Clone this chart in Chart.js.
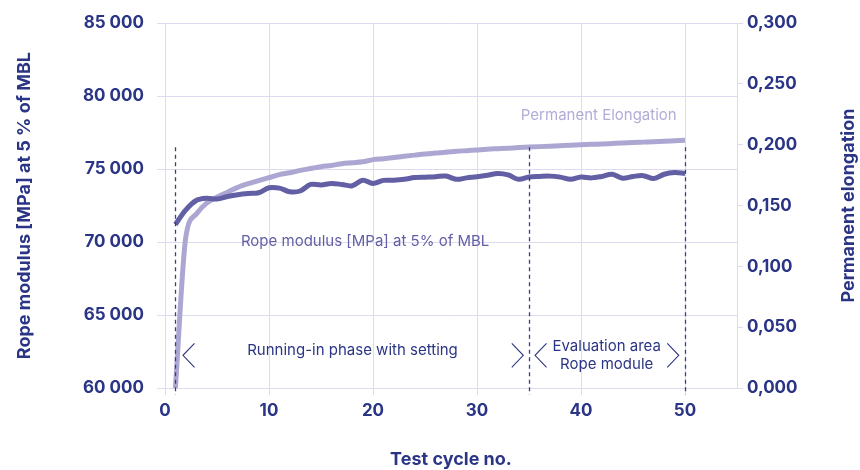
<!DOCTYPE html>
<html>
<head>
<meta charset="utf-8">
<script src="https://cdn.jsdelivr.net/npm/chart.js@4.4.1/dist/chart.umd.min.js"></script>
<style>
  html, body { margin: 0; padding: 0; background: #ffffff; }
  canvas { display: block; }
</style>
</head>
<body>
<canvas id="chart" width="860" height="470"></canvas>
<script>
// Test cycles 1..50
const cycles = [
  1, 2, 3, 4, 5, 6, 7, 8, 9, 10,
  11, 12, 13, 14, 15, 16, 17, 18, 19, 20,
  21, 22, 23, 24, 25, 26, 27, 28, 29, 30,
  31, 32, 33, 34, 35, 36, 37, 38, 39, 40,
  41, 42, 43, 44, 45, 46, 47, 48, 49, 50
];

// Rope modulus [MPa] at 5 % of MBL (left axis)
const ropeModulus = [
  71200, 72200, 72850, 73000, 72950, 73120, 73250, 73330, 73380, 73720,
  73700, 73450, 73500, 73950, 73920, 74010, 73950, 73860, 74240, 74020,
  74230, 74240, 74300, 74420, 74450, 74480, 74530, 74300, 74400, 74480,
  74580, 74700, 74600, 74300, 74460, 74500, 74520, 74450, 74300, 74460,
  74400, 74500, 74650, 74380, 74500, 74550, 74360, 74650, 74760, 74700
];

// Permanent elongation (right axis)
const permanentElongation = [
  0.000, 0.124, 0.143, 0.152, 0.157, 0.161, 0.165, 0.168, 0.1705, 0.173,
  0.1755, 0.177, 0.179, 0.1805, 0.182, 0.183, 0.1845, 0.1852, 0.186, 0.1878,
  0.1886, 0.1895, 0.1905, 0.1915, 0.1925, 0.1932, 0.1938, 0.1946, 0.1952, 0.1958,
  0.1964, 0.1968, 0.1972, 0.1977, 0.1981, 0.1985, 0.1989, 0.1993, 0.1997, 0.2000,
  0.2004, 0.2007, 0.2011, 0.2015, 0.2018, 0.2022, 0.2026, 0.2029, 0.2033, 0.2037
];

// Tick values
const cycleTicks = [0, 10, 20, 30, 40, 50];
const modulusTicks = [60000, 65000, 70000, 75000, 80000, 85000];
const elongationTicks = [0, 0.05, 0.10, 0.15, 0.20, 0.25, 0.30];

// Phase boundaries (test cycle numbers)
const phaseBoundaries = [1, 35, 50];

const NAVY = '#2b3585';
const DARK_LINE = '#625fa4';
const LIGHT_LINE = '#aba7d2';
const GRID = '#dddbef';
const FONT = 'Inter, "Noto Sans", sans-serif';

const fmtModulus = v => {
  const s = Math.round(v).toString();
  return s.slice(0, s.length - 3) + ' ' + s.slice(-3);
};
const fmtElong = v => v.toFixed(3).replace('.', ',');

const tickFont = { family: FONT, size: 17, weight: 'bold' };
const titleFont = { family: FONT, size: 18, weight: 'bold' };

// Annotations: phase markers, brackets, in-plot labels and the right axis title
const phasePlugin = {
  id: 'phaseAnnotations',
  afterDatasetsDraw(chart) {
    const { ctx, chartArea, scales } = chart;
    const x = scales.x, yL = scales.yModulus, yR = scales.yElong;
    ctx.save();

    // dashed phase boundaries
    ctx.strokeStyle = '#34408e';
    ctx.lineWidth = 1.3;
    ctx.setLineDash([4, 3.5]);
    phaseBoundaries.forEach(c => {
      const px = Math.round(x.getPixelForValue(c)) + 0.5;
      ctx.beginPath();
      ctx.moveTo(px, yL.getPixelForValue(76500));
      ctx.lineTo(px, chartArea.bottom + 7);
      ctx.stroke();
    });
    ctx.setLineDash([]);

    // bracket chevrons
    const chev = (c, v, dir) => {
      const px = x.getPixelForValue(c), py = yL.getPixelForValue(v);
      const w = 11.5 * dir, h = 12;
      ctx.beginPath();
      ctx.moveTo(px + w, py - h);
      ctx.lineTo(px, py);
      ctx.lineTo(px + w, py + h);
      ctx.stroke();
    };
    ctx.strokeStyle = NAVY;
    ctx.lineWidth = 1.1;
    chev(1.73, 62240, 1);
    chev(34.45, 62240, -1);
    chev(35.58, 62240, 1);
    chev(49.4, 62240, -1);

    // labels
    ctx.textBaseline = 'middle';
    ctx.font = '15px ' + FONT;
    ctx.fillStyle = NAVY;
    ctx.textAlign = 'center';
    ctx.fillText('Running-in phase with setting', x.getPixelForValue(18.03), yL.getPixelForValue(62580));
    ctx.fillText('Evaluation area', x.getPixelForValue(42.47), yL.getPixelForValue(62850));
    ctx.fillText('Rope module', x.getPixelForValue(42.47), yL.getPixelForValue(61630));

    ctx.textAlign = 'left';
    ctx.fillStyle = DARK_LINE;
    ctx.fillText('Rope modulus [MPa] at 5% of MBL', x.getPixelForValue(7.3), yL.getPixelForValue(70054));

    ctx.textAlign = 'right';
    ctx.fillStyle = '#b1add8';
    ctx.fillText('Permanent Elongation', x.getPixelForValue(49.2), yR.getPixelForValue(0.2242));

    // right axis title, reading bottom to top
    ctx.translate(chart.width - 11, (chartArea.top + chartArea.bottom) / 2);
    ctx.rotate(-Math.PI / 2);
    ctx.textAlign = 'center';
    ctx.fillStyle = NAVY;
    ctx.font = 'bold 18px ' + FONT;
    ctx.fillText('Permanent elongation', 0, 0);

    ctx.restore();
  }
};

new Chart(document.getElementById('chart'), {
  type: 'line',
  data: {
    datasets: [
      {
        label: 'Rope modulus [MPa] at 5% of MBL',
        data: cycles.map((c, i) => ({ x: c, y: ropeModulus[i] })),
        yAxisID: 'yModulus',
        borderColor: DARK_LINE,
        borderWidth: 5,
        tension: 0.35,
        borderJoinStyle: 'round',
        pointRadius: 0,
        order: 0
      },
      {
        label: 'Permanent Elongation',
        data: cycles.map((c, i) => ({ x: c, y: permanentElongation[i] })),
        yAxisID: 'yElong',
        borderColor: LIGHT_LINE,
        borderWidth: 5,
        cubicInterpolationMode: 'monotone',
        borderJoinStyle: 'round',
        pointRadius: 0,
        order: 1
      }
    ]
  },
  options: {
    responsive: false,
    animation: false,
    events: [],
    layout: { padding: { top: 20, left: 0, right: 0, bottom: 0 } },
    plugins: { legend: { display: false }, tooltip: { enabled: false } },
    scales: {
      x: {
        type: 'linear',
        min: 0, max: 55,
        afterBuildTicks: s => { s.ticks = cycleTicks.map(v => ({ value: v })); },
        afterFit: s => { s.height = 82; },
        grid: { color: GRID, lineWidth: 1, tickLength: 7 },
        border: { color: GRID },
        ticks: { color: NAVY, font: tickFont, padding: 6, maxRotation: 0 },
        title: { display: true, text: 'Test cycle no.', color: NAVY, font: titleFont, padding: { top: 0, bottom: 0 } }
      },
      yModulus: {
        type: 'linear',
        position: 'left',
        min: 60000, max: 85000,
        afterBuildTicks: s => { s.ticks = modulusTicks.map(v => ({ value: v })); },
        afterFit: s => { s.width = 165; },
        grid: { color: GRID, lineWidth: 1, tickLength: 8 },
        border: { color: GRID },
        ticks: { color: NAVY, font: tickFont, padding: 13, callback: fmtModulus },
        title: { display: true, text: 'Rope modulus [MPa] at 5 % of MBL', color: NAVY, font: titleFont, padding: { top: 14, bottom: 0 } }
      },
      yElong: {
        type: 'linear',
        position: 'right',
        min: 0, max: 0.3,
        afterBuildTicks: s => { s.ticks = elongationTicks.map(v => ({ value: v })); },
        afterFit: s => { s.width = 123; },
        grid: { color: GRID, lineWidth: 1, tickLength: 6, drawOnChartArea: false },
        border: { color: GRID },
        ticks: { color: NAVY, font: tickFont, padding: 4, callback: fmtElong },
        title: { display: false }
      }
    }
  },
  plugins: [phasePlugin]
});
</script>
</body>
</html>
